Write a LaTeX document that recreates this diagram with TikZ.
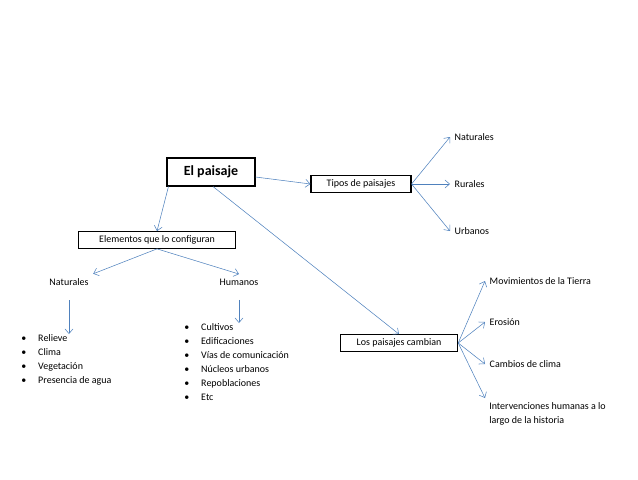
\documentclass[tikz,border=0pt]{standalone}
\usepackage{fontspec}
\setmainfont{Carlito}
\usetikzlibrary{arrows.meta}
\definecolor{linkblue}{HTML}{4F81BD}
\tikzset{
  box/.style={draw, thick, rectangle, inner sep=3pt},
  txt/.style={font=\fontsize{7.5}{10.5}\selectfont},
  lst/.style={txt, align=left, anchor=north west, inner sep=0pt},
  link/.style={draw=linkblue, ->, >={Straight Barb[length=3.5pt,width=6pt]}}
}
\begin{document}
\begin{tikzpicture}[x=0.75pt, y=-0.75pt]
  \useasboundingbox (0,0) rectangle (638,479);

  \node [box, font=\fontsize{10.5}{12}\selectfont\bfseries, minimum width=66pt, minimum height=21pt] (paisaje) at (211,172) {El paisaje};
  \node [box, txt, minimum width=75pt] (tipos) at (361,184) {Tipos de paisajes};
  \node [box, txt, minimum width=118pt] (elementos) at (157,240) {Elementos que lo configuran};
  \node [box, txt, minimum width=88pt] (cambian) at (399,343) {Los paisajes cambian};

  \node [txt, anchor=west] (tnat) at (450,137) {Naturales};
  \node [txt, anchor=west] (trur) at (450,184) {Rurales};
  \node [txt, anchor=west] (turb) at (450,231) {Urbanos};

  \node [txt] (natur) at (69,282) {Naturales};
  \node [txt] (human) at (239,282) {Humanos};

  \node [txt, anchor=west] (mov) at (485,281) {Movimientos de la Tierra};
  \node [txt, anchor=west] (eros) at (485,322) {Erosión};
  \node [txt, anchor=west] (clima) at (485,364) {Cambios de clima};
  \node [txt, anchor=north west, align=left, inner sep=3pt] (interv) at (485,398) {Intervenciones humanas a lo\\largo de la historia};

  \node [lst] (listnat) at (21,334) {•\hspace{9pt}Relieve\\•\hspace{9pt}Clima\\•\hspace{9pt}Vegetación\\•\hspace{9pt}Presencia de agua};
  \node [lst] (listhum) at (184,323) {•\hspace{9pt}Cultivos\\•\hspace{9pt}Edificaciones\\•\hspace{9pt}Vías de comunicación\\•\hspace{9pt}Núcleos urbanos\\•\hspace{9pt}Repoblaciones\\•\hspace{9pt}Etc};

  \draw [link] (paisaje.east) ++(0,5) -- (tipos.west);
  \draw [link] (paisaje.south west) ++(2,0) -- (elementos.north);
  \draw [link] (paisaje.south) ++(2,0) -- (cambian.north);
  \draw [link] (elementos.south) -- (natur.north east);
  \draw [link] (elementos.south) -- (human.north);
  \draw [link] (natur.south) ++(0,10) -- (listnat.north -| natur.south);
  \draw [link] (human.south) ++(0,10) -- (listhum.north -| human.south);

  \draw [link] (tipos.east) -- (tnat.west);
  \draw [link] (tipos.east) -- (trur.west);
  \draw [link] (tipos.east) -- (turb.west);

  \draw [link] (cambian.east) -- (mov.west);
  \draw [link] (cambian.east) -- (eros.west);
  \draw [link] (cambian.east) -- (clima.west);
  \draw [link] (cambian.east) -- (interv.north west);
\end{tikzpicture}
\end{document}
